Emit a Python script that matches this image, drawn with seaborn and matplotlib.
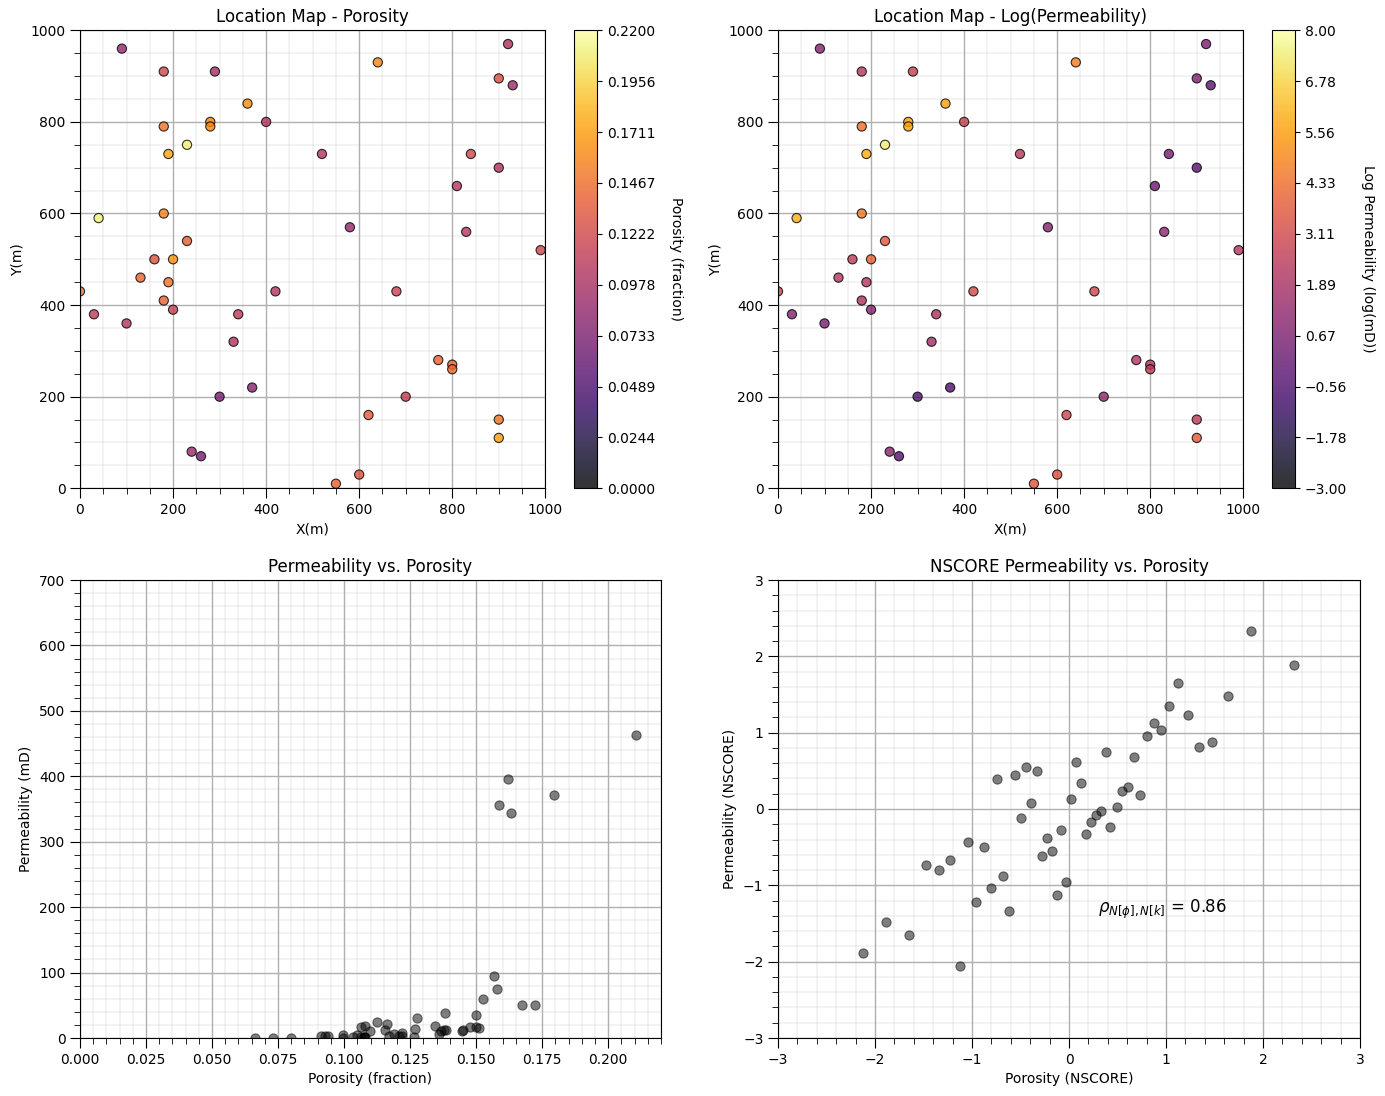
"""Location maps and porosity / permeability cross plots."""

import numpy as np
import matplotlib

matplotlib.use("Agg")
import matplotlib.pyplot as plt
import seaborn as sns
from matplotlib.cm import ScalarMappable
from matplotlib.colors import Normalize
from matplotlib.ticker import AutoMinorLocator, FuncFormatter

# well locations with the colour values
well_x = [90, 180, 290, 640, 920, 900, 930, 360, 280, 280, 400, 180, 190, 230, 520, 840, 900,
          810, 40, 180, 580, 830, 230, 160, 200, 130, 190, 0, 420, 680, 180, 200, 30, 340, 100,
          330, 770, 800, 800, 370, 300, 700, 620, 900, 900, 240, 260, 600, 550, 990]
well_y = [960, 910, 910, 930, 970, 895, 880, 840, 800, 790, 800, 790, 730, 750, 730, 730, 700,
          660, 590, 600, 570, 560, 540, 500, 500, 460, 450, 430, 430, 430, 410, 390, 380, 380,
          360, 320, 280, 270, 260, 220, 200, 200, 160, 150, 110, 80, 70, 30, 10, 520]
well_por = [0.086, 0.122, 0.095, 0.160, 0.100, 0.128, 0.092, 0.163, 0.158, 0.160, 0.104, 0.150,
            0.175, 0.208, 0.104, 0.122, 0.102, 0.106, 0.210, 0.158, 0.088, 0.106, 0.138, 0.130,
            0.166, 0.142, 0.150, 0.150, 0.104, 0.118, 0.140, 0.116, 0.112, 0.110, 0.104, 0.102,
            0.140, 0.142, 0.146, 0.080, 0.070, 0.114, 0.136, 0.150, 0.172, 0.090, 0.070, 0.130,
            0.140, 0.120]
well_logperm = [0.9, 2.4, 2.8, 4.7, 0.7, 0.7, -0.2, 5.6, 5.6, 5.7, 2.9, 4.4, 5.9, 7.4, 2.4, 0.5,
                -0.2, 0.3, 6.0, 4.6, 0.9, 1.2, 3.7, 2.6, 4.0, 2.3, 2.2, 3.0, 3.2, 3.1, 2.0, 0.9,
                0.9, 2.0, 0.6, 1.7, 2.2, 2.3, 2.6, -0.5, -0.5, 1.3, 3.0, 2.5, 3.8, 1.0, -0.4, 3.5,
                3.7, 2.3]

# raw cross plot
raw_por = [0.0663, 0.0731, 0.0798, 0.0911, 0.0926, 0.0940, 0.0997, 0.0995, 0.1033, 0.1049,
           0.1064, 0.1078, 0.1064, 0.1074, 0.1080, 0.1075, 0.1097, 0.1124, 0.1154, 0.1161,
           0.1169, 0.1188, 0.1209, 0.1218, 0.1219, 0.1263, 0.1268, 0.1276, 0.1344, 0.1358,
           0.1366, 0.1377, 0.1384, 0.1382, 0.1447, 0.1449, 0.1476, 0.1499, 0.1509, 0.1500,
           0.1526, 0.1568, 0.1579, 0.1672, 0.1724, 0.1588, 0.1622, 0.1633, 0.1796, 0.2106]
raw_perm = [0.3, 0.3, 0.3, 3, 3, 3, 4.5, 0.5, 2, 4.5, 17, 19, 2, 2, 2, 1, 10, 24, 12, 22, 3, 6,
            3, 7, 3, 1.5, 14, 30, 18, 6.5, 10.5, 11.7, 12, 37.5, 11, 11.5, 17, 17, 16, 34.5, 60,
            95, 75.6, 51, 51, 356, 395.6, 343.6, 371, 463]

# normal score cross plot
ns_por = [-0.742, -0.557, -0.443, -0.330, 0.072, 0.124, 0.021, -0.392, -0.495, 0.175, 0.227,
          0.275, -0.082, -0.227, -0.172, -0.278, -1.041, -0.876, -1.227, -1.474, -1.340, -0.680,
          -0.804, -0.959, -0.619, -0.031, -0.124, -1.887, -1.649, -2.124, -1.124, 1.876, 2.320,
          1.124, 1.639, 1.031, 1.227, 0.876, 0.948, 0.804, 1.474, 1.340, 0.381, 0.670, 0.732,
          0.608, 0.546, 0.495, 0.330, 0.420]
ns_perm = [0.392, 0.444, 0.549, 0.497, 0.614, 0.340, 0.131, 0.078, -0.112, -0.329, -0.171,
           -0.079, -0.276, -0.382, -0.553, -0.618, -0.434, -0.500, -0.671, -0.737, -0.803,
           -0.882, -1.039, -1.224, -1.342, -0.961, -1.132, -1.474, -1.645, -1.882, -2.053,
           2.327, 1.882, 1.647, 1.477, 1.346, 1.229, 1.124, 1.033, 0.954, 0.876, 0.810, 0.745,
           0.680, 0.183, 0.288, 0.231, 0.026, -0.026, -0.230]

FIG_W = 1385
FIG_H = 1096
MARKER_SIZE = 44
EDGE_WIDTH = 0.8


def add_axes_px(fig, left, top, right, bottom):
    """Add axes from a pixel box measured on the reference."""
    return fig.add_axes(
        [left / FIG_W, 1 - bottom / FIG_H, (right - left) / FIG_W, (bottom - top) / FIG_H]
    )


def add_grid(ax):
    ax.xaxis.set_minor_locator(AutoMinorLocator())
    ax.yaxis.set_minor_locator(AutoMinorLocator())
    ax.set_axisbelow(True)
    ax.grid(True, which="major", linewidth=1.0)
    ax.grid(True, which="minor", linewidth=0.2)
    ax.tick_params(which="major", length=7)
    ax.tick_params(which="minor", length=4)


def location_map(fig, box, cbox, values, vmin, vmax, title, label, fmt):
    ax = add_axes_px(fig, *box)
    sns.scatterplot(
        x=well_x,
        y=well_y,
        hue=values,
        hue_norm=(vmin, vmax),
        palette="inferno",
        s=MARKER_SIZE,
        alpha=0.8,
        edgecolor="black",
        linewidth=EDGE_WIDTH,
        legend=False,
        ax=ax,
    )
    ax.set_xlim(0, 1000)
    ax.set_ylim(0, 1000)
    ax.set_title(title)
    ax.set_xlabel("X(m)")
    ax.set_ylabel("Y(m)")
    add_grid(ax)

    cax = add_axes_px(fig, *cbox)
    mappable = ScalarMappable(norm=Normalize(vmin, vmax), cmap="inferno")
    cbar = fig.colorbar(
        mappable,
        cax=cax,
        alpha=0.8,
        ticks=np.linspace(vmin, vmax, 10),
        format=FuncFormatter(lambda v, _: fmt.format(v).replace("-", "\u2212")),
    )
    cbar.set_label(label, rotation=270, labelpad=20)


def cross_plot(fig, box, x, y, xlim, ylim, title, xlabel, ylabel):
    ax = add_axes_px(fig, *box)
    sns.scatterplot(
        x=x,
        y=y,
        color="black",
        s=MARKER_SIZE,
        alpha=0.5,
        edgecolor="black",
        linewidth=EDGE_WIDTH,
        ax=ax,
    )
    ax.set_xlim(*xlim)
    ax.set_ylim(*ylim)
    ax.set_title(title)
    ax.set_xlabel(xlabel)
    ax.set_ylabel(ylabel)
    add_grid(ax)
    return ax


fig = plt.figure(figsize=(FIG_W / 100, FIG_H / 100), dpi=100)

location_map(
    fig, (80, 30.3, 545.3, 488.3), (574, 30.3, 597, 488.3), well_por, 0.0, 0.22,
    "Location Map - Porosity", "Porosity (fraction)", "{:.4f}",
)
location_map(
    fig, (778, 30.3, 1243.3, 488.3), (1272.3, 30.3, 1295.3, 488.3), well_logperm, -3.0, 8.0,
    "Location Map - Log(Permeability)", "Log Permeability (log(mD))", "{:.2f}",
)
cross_plot(
    fig, (80, 580, 661, 1038), raw_por, raw_perm, (0, 0.22), (0, 700),
    "Permeability vs. Porosity", "Porosity (fraction)", "Permeability (mD)",
)
ax_ns = cross_plot(
    fig, (778, 580, 1360, 1038), ns_por, ns_perm, (-3, 3), (-3, 3),
    "NSCORE Permeability vs. Porosity", "Porosity (NSCORE)", "Permeability (NSCORE)",
)
ax_ns.text(0.3, -1.36, r"$\rho_{N[\phi],N[k]}$ = 0.86", fontsize=12)

fig.savefig("out.png", dpi=100)
